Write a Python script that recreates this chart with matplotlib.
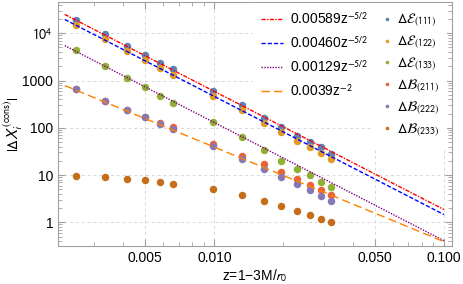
import numpy as np
import matplotlib
matplotlib.use("Agg")
import matplotlib.pyplot as plt
from matplotlib.lines import Line2D
from matplotlib.ticker import FixedLocator, FixedFormatter, NullFormatter

plt.rcParams['font.family'] = ['Liberation Sans', 'DejaVu Sans']
plt.rcParams['mathtext.fontset'] = 'stixsans'
plt.rcParams['font.size'] = 10

# ---- data ----
z = [0.0025, 0.00333, 0.00415, 0.005, 0.0058, 0.0066, 0.0099, 0.0132,
     0.0164, 0.0196, 0.0228, 0.026, 0.0291, 0.0323]
dE111 = [19100, 9530, 5470, 3390, 2320, 1730, 610, 303, 164, 102, 67, 51, 39, 28]
dE122 = [14960, 7470, 4290, 2720, 1815, 1310, 478, 238, 128, 81.5, 52.5, 39.8, 29.7, 22.2]
dE133 = [4350, 2060, 1148, 720, 478, 330, 134.6, 64.8, 33.9, 20.1, 13.6, 9.88, 7.24, 5.5]
dB211 = [660, 372, 241, 170, 124.5, 102.5, 45.4, 25.7, 16.9, 11.6, 8.25, 6.25, 4.83, 3.84]
dB222 = [653, 369, 238, 167, 118.6, 93, 41.2, 21.5, 13.2, 9.1, 6.37, 4.75, 3.66, 2.87]
dB233 = [9.55, 8.96, 8.25, 7.74, 7.03, 6.56, 4.99, 3.73, 2.87, 2.21, 1.76, 1.43, 1.19, 1.0]

series_labels = [r'$\Delta\mathcal{E}_{(111)}$', r'$\Delta\mathcal{E}_{(122)}$',
                 r'$\Delta\mathcal{E}_{(133)}$', r'$\Delta\mathcal{B}_{(211)}$',
                 r'$\Delta\mathcal{B}_{(222)}$', r'$\Delta\mathcal{B}_{(233)}$']
series_colors = ['#5E81B5', '#E19C24', '#8FB032', '#EB6235', '#8778B3', '#C56E1A']

# fit curves: coef * z^power
fit_coefs = [0.00589, 0.00460, 0.00129, 0.0039]
fit_powers = [-2.5, -2.5, -2.5, -2.0]
fit_labels = ['0.00589z$^{-5/2}$', '0.00460z$^{-5/2}$', '0.00129z$^{-5/2}$', '0.0039z$^{-2}$']
fit_colors = ['#FF0000', '#0000FF', '#800080', '#FF8000']
fit_styles = [(0, (3, 1, 1, 1)), (0, (3, 1.5)), (0, (1, 1)), (0, (6, 3))]
fit_range = (0.00223, 0.1)

x_ticks = [0.005, 0.01, 0.05, 0.1]
x_ticklabels = ['0.005', '0.010', '0.050', '0.100']
y_ticks = [1, 10, 100, 1000, 10000]
y_ticklabels = ['1', '10', '100', '1000', '$10^4$']

# ---- figure ----
fig = plt.figure(figsize=(4.63, 2.84), dpi=100)
ax = fig.add_axes([58/463, 38/284, 394/463, 244/284])
ax.set_xscale('log')
ax.set_yscale('log')

all_series = [dE111, dE122, dE133, dB211, dB222, dB233]
pt_handles = []
for vals, c, lab in zip(all_series, series_colors, series_labels):
    ax.plot(z, vals, 'o', color=c, markersize=5.4, markeredgewidth=0, zorder=3)
    pt_handles.append(Line2D([], [], marker='o', color=c, linestyle='None',
                             markersize=2.6, markeredgewidth=0, label=lab))

zz = np.geomspace(fit_range[0], fit_range[1], 300)
ln_handles = []
for a, p, c, ls, lab in zip(fit_coefs, fit_powers, fit_colors, fit_styles, fit_labels):
    h, = ax.plot(zz, a * zz ** p, color=c, linestyle=ls, linewidth=1.0, zorder=4, label=lab)
    ln_handles.append(h)

ax.set_xlim(0.002084, 0.1084)
ax.set_ylim(0.315, 45900)

ax.xaxis.set_major_locator(FixedLocator(x_ticks))
ax.xaxis.set_major_formatter(FixedFormatter(x_ticklabels))
xminor = [0.002, 0.003, 0.004, 0.006, 0.007, 0.008, 0.009,
          0.02, 0.03, 0.04, 0.06, 0.07, 0.08, 0.09]
ax.xaxis.set_minor_locator(FixedLocator(xminor))
ax.xaxis.set_minor_formatter(NullFormatter())
ax.yaxis.set_major_locator(FixedLocator(y_ticks))
ax.yaxis.set_major_formatter(FixedFormatter(y_ticklabels))
yminor = [m * 10.0 ** e for e in range(-1, 5) for m in range(2, 10)]
ax.yaxis.set_minor_locator(FixedLocator(yminor))
ax.yaxis.set_minor_formatter(NullFormatter())

frame_col = '#a0a0a0'
for s in ax.spines.values():
    s.set_color(frame_col)
    s.set_linewidth(0.8)
ax.tick_params(which='both', direction='in', top=True, right=True,
               color=frame_col, labelcolor='black', labelsize=10)
ax.tick_params(which='major', length=5, width=0.8)
ax.tick_params(which='minor', length=3, width=0.6)
ax.grid(True, which='major', color='#d8d8d8', linestyle=(0, (3, 3)), linewidth=0.7)
ax.set_axisbelow(True)

ax.set_xlabel('z=1\u22123M/$r_0$', fontsize=10)
ax.xaxis.set_label_coords(0.5, -0.085)
ax.set_ylabel(r'$|\Delta X_i^{(\mathrm{cons})}|$', fontsize=10.5)
ax.yaxis.set_label_coords(-0.085, 0.5)

leg1 = ax.legend(handles=ln_handles, loc='upper left', bbox_to_anchor=(0.495, 0.995),
                 frameon=True, facecolor='white', edgecolor='none', framealpha=1,
                 fancybox=False, borderpad=0.55, borderaxespad=0, handlelength=1.6,
                 handletextpad=0.5, labelspacing=0.6, fontsize=10)
leg1.set_zorder(5)
ax.add_artist(leg1)
leg2 = ax.legend(handles=pt_handles, loc='upper left', bbox_to_anchor=(0.80, 0.995),
                 frameon=True, facecolor='white', edgecolor='none', framealpha=1,
                 fancybox=False, borderpad=0.6, borderaxespad=0, handlelength=0.8,
                 handletextpad=0.3, labelspacing=0.32, fontsize=10)
leg2.set_zorder(5)

fig.savefig('out.png', dpi=100)
